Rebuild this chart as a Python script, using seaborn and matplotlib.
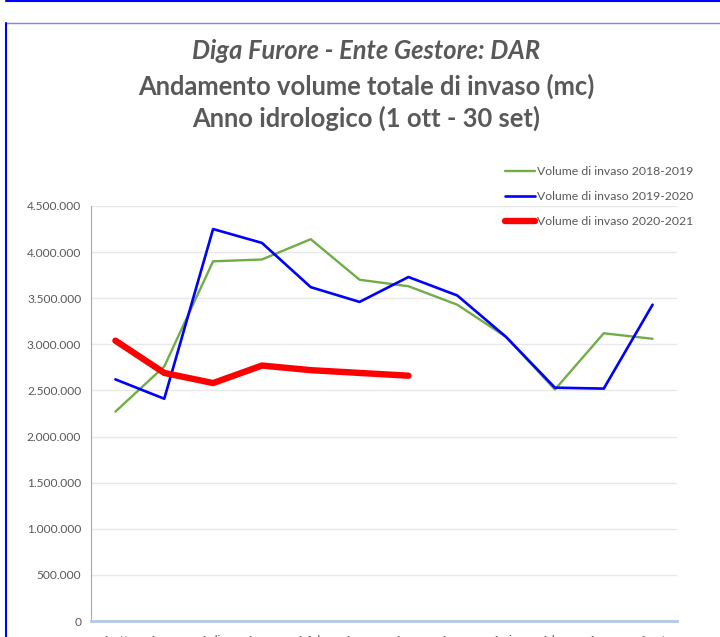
#!/usr/bin/python

import numpy as np
import pandas as pd
import seaborn as sns
import matplotlib
matplotlib.use('Agg')
import matplotlib.pyplot as plt
from matplotlib.lines import Line2D
from matplotlib.ticker import FuncFormatter, FixedLocator

# Data
months = ['1 ott', '1 nov', '1 dic', '1 gen', '1 feb', '1 mar',
          '1 apr', '1 mag', '1 giu', '1 lug', '1 ago', '1 set']
vol_2018_2019 = [2270000, 2760000, 3900000, 3920000, 4140000, 3700000,
                 3630000, 3430000, 3080000, 2510000, 3120000, 3060000]
vol_2019_2020 = [2620000, 2410000, 4250000, 4100000, 3620000, 3460000,
                 3730000, 3530000, 3080000, 2530000, 2520000, 3430000]
vol_2020_2021 = [3040000, 2690000, 2580000, 2770000, 2720000, 2690000,
                 2660000, np.nan, np.nan, np.nan, np.nan, np.nan]

series_labels = ['Volume di invaso 2018-2019',
                 'Volume di invaso 2019-2020',
                 'Volume di invaso 2020-2021']
title_lines = ['Diga Furore - Ente Gestore: DAR',
               'Andamento volume totale di invaso (mc)',
               'Anno idrologico (1 ott - 30 set)']

W, H = 720, 637

sns.set_style('white')
plt.rcParams['font.family'] = ['Lato', 'DejaVu Sans']

fig = plt.figure(figsize=(W / 100, H / 100), dpi=100)
ax = fig.add_axes([91 / W, (H - 621) / H, (677 - 91) / W, (621 - 206) / H])

x = np.arange(len(months))
sns.lineplot(x=x, y=vol_2018_2019, ax=ax, color='#70ad47', lw=1.7,
             label=series_labels[0], legend=False)
sns.lineplot(x=x, y=vol_2019_2020, ax=ax, color='#0000ff', lw=1.9,
             label=series_labels[1], legend=False)
sns.lineplot(x=pd.Series(x), y=pd.Series(vol_2020_2021), ax=ax, color='#ff0000',
             lw=4.6, solid_capstyle='round', label=series_labels[2], legend=False)

ax.set_xlabel('')
ax.set_ylabel('')
ax.set_xlim(-0.5, len(months) - 0.5)
ax.set_ylim(0, 4500000)
ax.yaxis.set_major_locator(FixedLocator(np.arange(0, 4500001, 500000)))
ax.yaxis.set_major_formatter(FuncFormatter(lambda v, p: '{:,.0f}'.format(v).replace(',', '.')))
ax.set_xticks(x)
ax.set_xticklabels(months)
ax.set_xticks(np.arange(-0.5, len(months)), minor=True)
ax.tick_params(axis='x', which='major', length=0, pad=10, labelsize=8.6, colors='#595959')
ax.tick_params(axis='x', which='minor', length=5, width=1, color='#8faadc')
ax.tick_params(axis='y', length=0, pad=7, labelsize=8.6, colors='#595959')

ax.grid(axis='y', color='#e8e8e8', lw=1)
ax.set_axisbelow(True)
for side in ['top', 'right']:
    ax.spines[side].set_visible(False)
ax.spines['left'].set_color('#8faadc')
ax.spines['left'].set_linewidth(0.8)
ax.spines['bottom'].set_color('#b4c7e7')
ax.spines['bottom'].set_linewidth(2)

# Title
title_y = [51, 86, 118]
for i, line in enumerate(title_lines):
    fig.text(366 / W, 1 - title_y[i] / H, line, ha='center', va='center',
             fontsize=18.4, fontweight='bold', color='#595959',
             style='italic' if i == 0 else 'normal')

# Legend
handles, labels = ax.get_legend_handles_labels()
fig.legend(handles, labels, loc='upper left', bbox_to_anchor=(500 / W, 1 - 161 / H),
           frameon=False, fontsize=8.8, handlelength=2.5, handletextpad=0.15,
           labelspacing=1.15, labelcolor='#595959', borderaxespad=0)

# Frame lines of the surrounding panel
fig.add_artist(Line2D([6 / W, 1], [1 - 0.5 / H, 1 - 0.5 / H], color='#0000ff', lw=1.5))
fig.add_artist(Line2D([6 / W, 1], [1 - 23 / H, 1 - 23 / H], color='#8080ff', lw=1))
fig.add_artist(Line2D([6.5 / W, 6.5 / W], [0, 1 - 23 / H], color='#0000ff', lw=1.5))

plt.savefig('out.png', dpi=100)
plt.close()
